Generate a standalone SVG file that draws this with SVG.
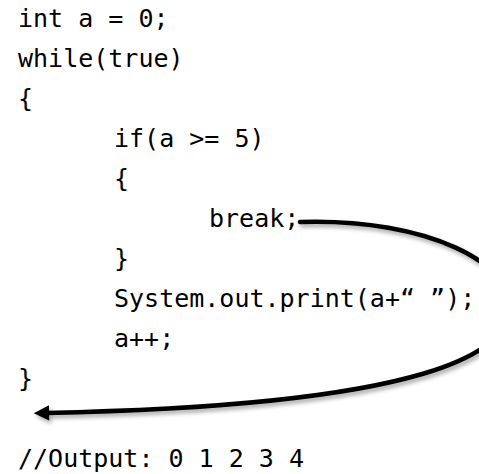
<svg xmlns="http://www.w3.org/2000/svg" width="479" height="474" viewBox="0 0 479 474">
<style>
.code{font-family:"DejaVu Sans Mono","Liberation Mono",monospace;font-size:25px;fill:#000;}
.conn{fill:none;stroke:#000;stroke-width:4.5;stroke-linecap:round;}
</style>
<defs>
<filter id="sh" x="-20%" y="-20%" width="140%" height="140%">
<feDropShadow dx="2" dy="3" stdDeviation="2" flood-color="#000" flood-opacity="0.35"/>
</filter>
<marker id="ah" viewBox="0 0 10 10" refX="2" refY="5" markerWidth="4" markerHeight="3.4" orient="auto-start-reverse" markerUnits="strokeWidth">
<path d="M0,0 L10,5 L0,10 z" fill="#000"/>
</marker>
</defs>
<rect width="479" height="474" fill="#fff"/>
<g id="code">
<text class="code" x="18" y="27">int a = 0;</text>
<text class="code" x="18" y="67">while(true)</text>
<text class="code" x="18" y="107">{</text>
<text class="code" x="114" y="147">if(a &gt;= 5)</text>
<text class="code" x="114" y="187">{</text>
<text id="break" class="code" x="209" y="227">break;</text>
<text class="code" x="114" y="267">}</text>
<text class="code" x="114" y="307">System.out.print(a+“ ”);</text>
<text class="code" x="114" y="347">a++;</text>
<text class="code" x="18" y="387">}</text>
<text class="code" x="18" y="467">//Output: 0 1 2 3 4</text>
</g>
<g id="connectors" filter="url(#sh)">
<path class="conn" d="M300,222 C430,218 515,265 510,310 C505,350 440,405 46,413" marker-end="url(#ah)"/>
</g>
</svg>
